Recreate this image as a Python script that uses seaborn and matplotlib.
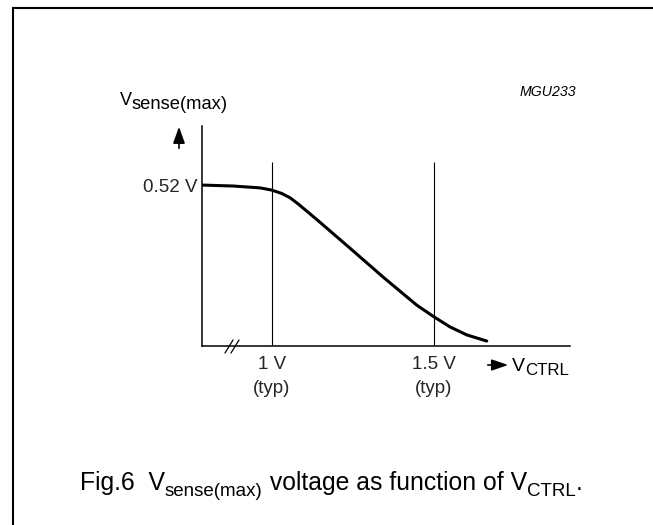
import matplotlib
matplotlib.use("Agg")
import matplotlib.pyplot as plt
from matplotlib.lines import Line2D
import seaborn as sns
import pandas as pd

# ---- data ----
v_ctrl = [0.788, 0.881, 0.963, 0.999, 1.030, 1.056, 1.081, 1.138, 1.241,
          1.344, 1.447, 1.499, 1.549, 1.601, 1.663]
v_sense = [0.520, 0.517, 0.511, 0.504, 0.493, 0.479, 0.459, 0.409, 0.316,
           0.222, 0.132, 0.095, 0.062, 0.036, 0.016]
marker_x = [1.0, 1.5]
marker_top = 0.594
xtick_vals = [1.0, 1.5]
xtick_labels = ["1 V\n(typ)", "1.5 V\n(typ)"]
ytick_vals = [0.52]
ytick_labels = ["0.52 V"]
x_range = (0.784, 1.920)
y_range = (0.0, 0.711)

sns.set_theme(style="white")
plt.rcParams["font.family"] = ["Liberation Sans", "DejaVu Sans"]
plt.rcParams["axes.edgecolor"] = "black"
plt.rcParams["text.color"] = "black"

W, H = 653, 525
fig = plt.figure(figsize=(W / 100, H / 100), dpi=100)
fig.patch.set_facecolor("white")


def X(px):
    return px / W


def Y(py):
    return 1 - py / H


# axes placed in pixel geometry
left, right, top, bottom = 202, 570, 126, 346
ax = fig.add_axes([X(left), Y(bottom), (right - left) / W, (bottom - top) / H])
ax.set_facecolor("white")

df = pd.DataFrame({"vctrl": v_ctrl, "vsense": v_sense})
sns.lineplot(data=df, x="vctrl", y="vsense", ax=ax, color="black",
             linewidth=2.2, sort=False, estimator=None)
ax.vlines(marker_x, 0, marker_top, color="black", linewidth=0.8)

ax.set_xlim(*x_range)
ax.set_ylim(*y_range)
for s in ["top", "right"]:
    ax.spines[s].set_visible(False)
for s in ["left", "bottom"]:
    ax.spines[s].set_linewidth(1.1)
    ax.spines[s].set_color("black")

ax.set_xticks(xtick_vals, labels=xtick_labels)
ax.set_yticks(ytick_vals, labels=ytick_labels)
ax.tick_params(axis="x", length=0, pad=7.5, labelsize=13.5)
ax.tick_params(axis="y", length=0, pad=3.5, labelsize=13.5)
for lab in ax.get_xticklabels():
    lab.set_linespacing(1.5)
ax.set_xlabel("")
ax.set_ylabel("")

# axis break marks
for x0 in (225, 231):
    fig.add_artist(Line2D([X(x0), X(x0 + 8)], [Y(353), Y(340)],
                          color="black", linewidth=0.9))

# border (top and left)
fig.add_artist(Line2D([X(13), X(W)], [Y(8), Y(8)], color="black", linewidth=1.5))
fig.add_artist(Line2D([X(13), X(13)], [Y(8), Y(H)], color="black", linewidth=1.5))

# arrows
fig.add_artist(matplotlib.patches.FancyArrowPatch(
    (X(179), Y(151)), (X(179), Y(124)), transform=fig.transFigure,
    arrowstyle="-|>,head_length=10,head_width=3.6", color="black",
    linewidth=1.2, mutation_scale=1))
fig.add_artist(matplotlib.patches.FancyArrowPatch(
    (X(485), Y(365)), (X(511), Y(365)), transform=fig.transFigure,
    arrowstyle="-|>,head_length=10,head_width=3.4", color="black",
    linewidth=1.2, mutation_scale=1))

renderer = fig.canvas.get_renderer()


def chain(x, y, parts):
    """parts: list of (text, size, baseline_drop_px)."""
    cur = x
    for txt, size, drop in parts:
        t = fig.text(X(cur), Y(y + drop), txt, fontsize=size,
                     ha="left", va="baseline")
        bb = t.get_window_extent(renderer)
        cur = bb.x1
    return cur


# y-axis label
chain(120, 105, [("V", 13, 0), ("sense(max)", 13.2, 4)])
# x-axis label
chain(512, 371, [("V", 14, 0), ("CTRL", 12.2, 4)])
# figure code
fig.text(X(520), Y(96), "MGU233", fontsize=10.2, style="italic",
         ha="left", va="baseline")
# caption
chain(80, 490, [("Fig.6  V", 17.8, 0), ("sense(max)", 13.5, 6),
                (" voltage as function of V", 17.8, 0), ("CTRL", 13.5, 6),
                (".", 17.8, 0)])

fig.savefig("out.png", dpi=100, facecolor="white")
